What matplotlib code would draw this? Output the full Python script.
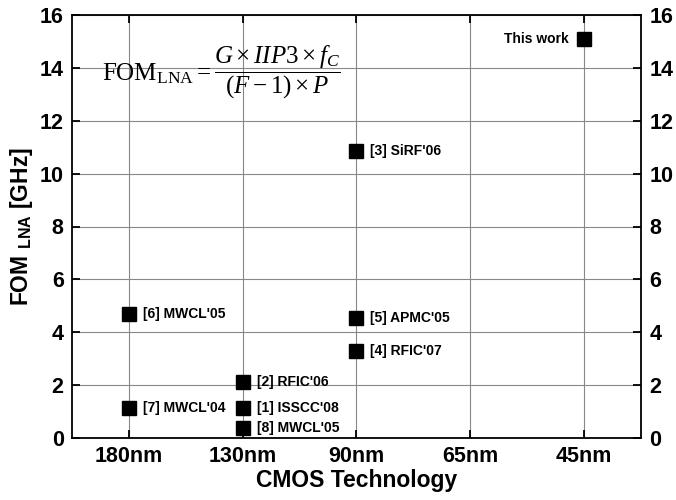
import matplotlib.pyplot as plt

plt.rcParams['font.family'] = ['Liberation Sans', 'DejaVu Sans']
plt.rcParams['font.weight'] = 'bold'
plt.rcParams['mathtext.fontset'] = 'custom'
plt.rcParams['mathtext.rm'] = 'Liberation Serif:normal'
plt.rcParams['mathtext.it'] = 'Liberation Serif:italic:normal'
plt.rcParams['mathtext.bf'] = 'Liberation Sans:bold'

nodes = ['180nm', '130nm', '90nm', '65nm', '45nm']

labels = ["[6] MWCL'05", "[7] MWCL'04", "[2] RFIC'06", "[1] ISSCC'08",
          "[8] MWCL'05", "[3] SiRF'06", "[5] APMC'05", "[4] RFIC'07", "This work"]
node_idx = [0, 0, 1, 1, 1, 2, 2, 2, 4]
fom = [4.7, 1.15, 2.12, 1.15, 0.38, 10.85, 4.55, 3.3, 15.1]

fig = plt.figure(figsize=(6.76, 5), dpi=100)
ax = fig.add_axes([0.1065, 0.124, 0.8415, 0.846])

ax.plot(node_idx, fom, 's', color='black', ms=9.5, zorder=3)

for x, y, lab in zip(node_idx, fom, labels):
    if lab == 'This work':
        ax.annotate(lab, (x, y), xytext=(-11, 0), textcoords='offset points',
                    ha='right', va='center', fontsize=10, fontweight='bold')
    else:
        ax.annotate(lab, (x, y), xytext=(10, 0), textcoords='offset points',
                    ha='left', va='center', fontsize=10, fontweight='bold')

ax.set_xlim(-0.5, 4.5)
ax.set_ylim(0, 16)
ax.set_xticks(range(len(nodes)))
ax.set_xticklabels(nodes)
ax.set_yticks(range(0, 17, 2))
ax.grid(True, color='#888888', linewidth=0.8)
ax.set_axisbelow(True)
ax.tick_params(direction='in', length=6, width=1.3, labelsize=15.5,
               top=True, right=True, labelright=True, pad=6)
for lab in ax.get_xticklabels() + ax.get_yticklabels():
    lab.set_fontweight('bold')
for s in ax.spines.values():
    s.set_linewidth(1.3)

ax.set_xlabel('CMOS Technology', fontsize=16.5, fontweight='bold', labelpad=1)
ax.set_ylabel(r'FOM $\mathbf{_{LNA}}$ [GHz]', fontsize=16.5, fontweight='bold', labelpad=3)

ax.text(0.262, 0.865, r'$\mathrm{FOM}_{\mathrm{LNA}}=\dfrac{G\times IIP3\times f_C}{(F-1)\times P}$',
        transform=ax.transAxes, ha='center', va='center', fontsize=18, fontweight='normal')

fig.savefig('out.png', dpi=100)
